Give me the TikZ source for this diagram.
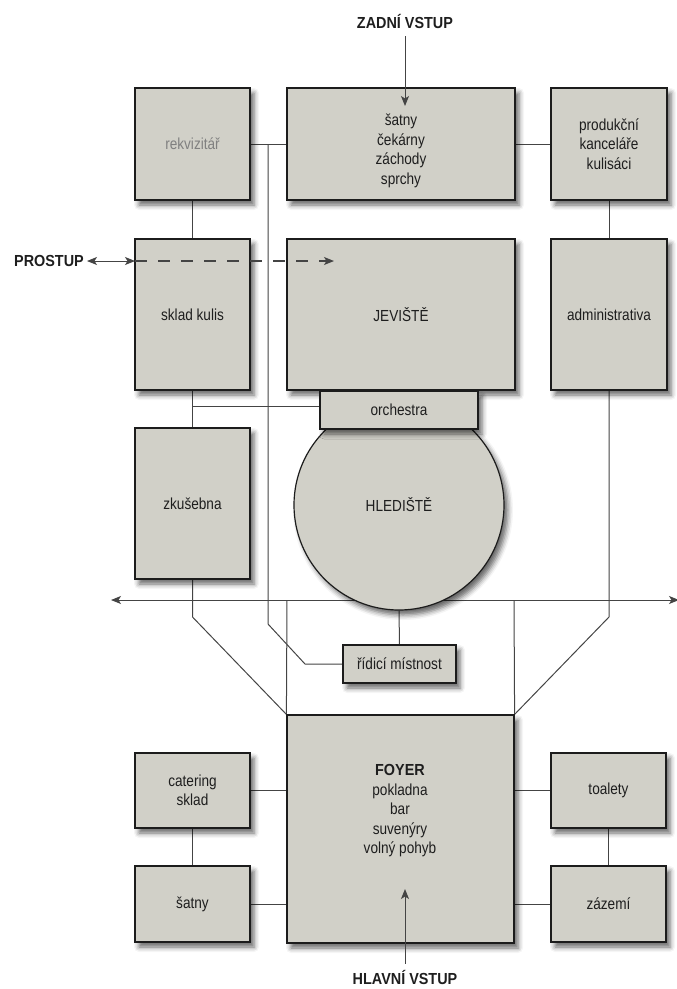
\documentclass[tikz,border=0pt]{standalone}
\usepackage{fontspec}
\setmainfont[FakeStretch=0.85]{Liberation Sans}
\newfontfamily\boldf[FakeStretch=0.9]{Liberation Sans}
\usetikzlibrary{arrows.meta,shadows.blur}
\definecolor{boxfill}{HTML}{D1D0C8}
\definecolor{edge}{HTML}{1C1C1C}
\definecolor{txt}{HTML}{1E1E1E}
\definecolor{conncol}{HTML}{444444}
\pgfdeclarelayer{bg}
\pgfsetlayers{bg,main}
\tikzset{
  room/.style={draw=edge, line width=1.2pt, fill=boxfill,
    blur shadow={shadow xshift=4pt, shadow yshift=-5pt, shadow blur radius=5pt, shadow opacity=60},
    inner sep=0pt, text=txt, font=\fontsize{16}{19.5}\selectfont, align=center},
  conn/.style={draw=conncol, line width=1pt},
  tip/.tip={Stealth[length=10pt,width=8pt,inset=2.5pt]},
  arr/.style={-tip},
  dblarr/.style={tip-tip},
  lbl/.style={font=\boldf\bfseries\fontsize{16}{19}\selectfont, text=txt, inner sep=0pt},
  rtext/.style={text=txt, font=\fontsize{16}{19.5}\selectfont, align=center, inner sep=0pt}
}
\begin{document}
\begin{tikzpicture}[x=1pt,y=-1pt]
\useasboundingbox (0,0) rectangle (677,989);
% top row
\node[room, minimum width=115pt, minimum height=112pt] (rekv) at (192.5,144) {\textcolor{gray}{rekvizitář}};
\node[room, minimum width=228pt, minimum height=112pt] (satnyTop) at (401,144) {};
\node[rtext] (satnyT) at (401,151) {šatny\\čekárny\\záchody\\sprchy};
\node[room, minimum width=116pt, minimum height=112pt] (prod) at (609,144) {produkční\\kanceláře\\kulisáci};
% second row
\node[room, minimum width=115pt, minimum height=151pt] (sklad) at (192.5,314.5) {sklad kulis};
\node[room, minimum width=228pt, minimum height=151pt] (jev) at (401,314.5) {JEVIŠTĚ};
\node[room, minimum width=116pt, minimum height=151pt] (admin) at (609,314.5) {administrativa};
% auditorium
\node[room, circle, minimum size=210pt] (hled) at (399,505) {HLEDIŠTĚ};
\node[room, minimum width=158pt, minimum height=38pt] (orch) at (399,410) {orchestra};
\node[room, minimum width=115pt, minimum height=151pt] (zkus) at (192.5,503.5) {zkušebna};
\node[room, minimum width=113pt, minimum height=38pt] (ridici) at (399.5,664) {řídicí místnost};
% foyer
\node[room, minimum width=227pt, minimum height=228pt] (foyer) at (400.5,829) {};
\node[rtext] (foyerT) at (400,811) {{\boldf\bfseries FOYER}\\pokladna\\bar\\suvenýry\\volný pohyb};
\node[room, minimum width=115pt, minimum height=75pt] (cater) at (192.5,790.5) {catering\\sklad};
\node[room, minimum width=115pt, minimum height=76pt] (satnyBot) at (192.5,904) {šatny};
\node[room, minimum width=115pt, minimum height=75pt] (toal) at (608.5,790.5) {toalety};
\node[room, minimum width=115pt, minimum height=76pt] (zaz) at (608.5,904) {zázemí};
% labels
\node[lbl] (zadni) at (405,21) {ZADNÍ VSTUP};
\node[lbl, anchor=east] (prostup) at (84,261) {PROSTUP};
\node[lbl] (hlavni) at (405,977) {HLAVNÍ VSTUP};
% coordinates
\coordinate (z1) at (405,106);
\coordinate (h1) at (405,889);
\coordinate (p1) at (135,261);
\coordinate (p2) at (334,261);
\coordinate (j1) at (268,144);
\coordinate (j2) at (268,624);
\coordinate (j3) at (305,664);
\coordinate (o1) at (192.5,406);
\coordinate (l1) at (192.5,617);
\coordinate (r1) at (609,617);
\coordinate (ha1) at (111,600);
\coordinate (ha2) at (679,600);
\coordinate (v1) at (287,600);
\coordinate (v2) at (514,600);
\begin{pgfonlayer}{bg}
\draw[conn] (rekv.east) -- (satnyTop.west);
\draw[conn] (satnyTop.east) -- (prod.west);
\draw[conn] (j1) -- (j2) -- (j3) -- (ridici.west);
\draw[conn] (rekv.south) -- (sklad.north);
\draw[conn] (prod.south) -- (admin.north);
\draw[conn] (sklad.south) -- (zkus.north);
\draw[conn] (o1) -- (o1 -| orch.west);
\draw[conn] (zkus.south) -- (l1) -- (foyer.north west);
\draw[conn] (admin.south) -- (r1) -- (foyer.north east);
\draw[conn, dblarr] (ha1) -- (ha2);
\draw[conn] (v1) -- (foyer.north west);
\draw[conn] (v2) -- (foyer.north east);
\draw[conn] (hled.south) -- (ridici.north);
\draw[conn] (cater.east) -- (cater.east -| foyer.west);
\draw[conn] (satnyBot.east) -- (satnyBot.east -| foyer.west);
\draw[conn] (toal.west) -- (toal.west -| foyer.east);
\draw[conn] (zaz.west) -- (zaz.west -| foyer.east);
\draw[conn] (cater.south) -- (satnyBot.north);
\draw[conn] (toal.south) -- (zaz.north);
\end{pgfonlayer}
\draw[conn, arr, shorten <=8pt] (zadni.south) -- (z1);
\draw[conn, arr, shorten <=6pt] (hlavni.north) -- (h1);
\draw[conn, dblarr, shorten <=3pt] (prostup.east) -- (p1);
\draw[conn, line width=1.3pt, arr, dash pattern=on 12pt off 11pt] (p1) -- (p2);
\end{tikzpicture}
\end{document}
